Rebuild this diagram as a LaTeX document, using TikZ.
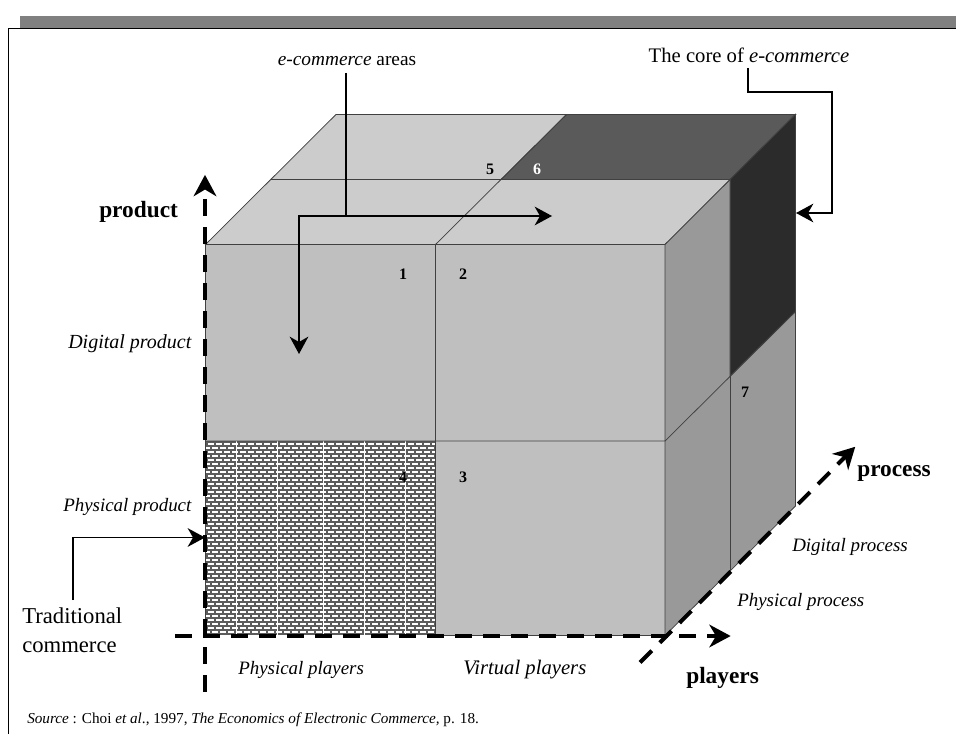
\documentclass[tikz,border=0pt]{standalone}
\usepackage{fontspec}
\setmainfont{Liberation Serif}
\usetikzlibrary{arrows.meta}
\definecolor{bargray}{HTML}{808080}
\definecolor{topgray}{HTML}{CCCCCC}
\definecolor{frontgray}{HTML}{BFBFBF}
\definecolor{sidegray}{HTML}{999999}
\definecolor{coretop}{HTML}{5A5A5A}
\definecolor{coreside}{HTML}{2B2B2B}
\definecolor{brickgray}{HTML}{5C5C5C}
\tikzset{
  face/.style={draw=black!75,line width=0.55pt},
  axisline/.style={line width=3pt,dash pattern=on 12.5pt off 8.5pt,-{Stealth[length=16pt,width=17pt,inset=5pt,sep=4pt]}},
  pointer/.style={line width=1.2pt,-{Stealth[length=13pt,width=14pt,inset=4pt]}},
  lab/.style={inner sep=0pt,font=\fontsize{15}{15}\selectfont},
  axislab/.style={inner sep=0pt,font=\fontsize{17.5}{18}\selectfont\bfseries},
  num/.style={inner sep=0pt,font=\fontsize{12}{12}\selectfont\bfseries},
  itlab/.style={inner sep=0pt,font=\fontsize{14.2}{15}\selectfont\itshape}
}
\begin{document}
\begin{tikzpicture}[x=0.75pt,y=-0.75pt]
\useasboundingbox (0,0) rectangle (956,734);
\fill[bargray] (20,16) rectangle (956,28);
\draw[line width=0.75pt] (956,28.5) -- (8.5,28.5) -- (8.5,734);
% faces of the cube
\draw[face,fill=topgray] (205.5,244.5) -- (336,114.5) -- (795.5,114.5) -- (665,244.5) -- cycle;
\draw[face,fill=coretop] (566.5,114.5) -- (795.5,114.5) -- (730,179.5) -- (501,179.5) -- cycle;
\draw[face,fill=frontgray] (205.5,244.5) rectangle (665,635.5);
\draw[face,fill=sidegray] (665,244.5) -- (795.5,114.5) -- (795.5,506) -- (665,635.5) -- cycle;
\draw[face,fill=coreside] (730,179.5) -- (795.5,114.5) -- (795.5,311.5) -- (730,376) -- cycle;
% brick pattern
\fill[white] (205.5,441) rectangle (435.5,635.5);
\foreach \row in {0,...,48} {
  \draw[brickgray,line width=1.2pt] (205.5,442+4*\row) -- (435.5,442+4*\row);
  \pgfmathsetmacro{\shift}{mod(\row,2)*4}
  \ifnum\row<48
  \foreach \col in {0,...,28}
    \draw[brickgray,line width=0.8pt] (207+\shift+8*\col,442+4*\row) -- (207+\shift+8*\col,446+4*\row);
  \fi
}
\foreach \gap in {236,277,323,364,405}
  \draw[white,line width=0.6pt] (\gap,441) -- (\gap,635.5);
% inner lines
\draw[face] (271,179.5) -- (730,179.5);
\draw[face] (435.5,244.5) -- (566.5,114.5);
\draw[face] (435.5,244.5) -- (435.5,635.5);
\draw[face] (205.5,441) -- (665,441) -- (795.5,311.5);
\draw[face] (730,179.5) -- (730,570);
% axes
\coordinate (prodbot) at (205,692);
\coordinate (prodtip) at (205,169.5);
\coordinate (playleft) at (175,636);
\coordinate (playtip) at (736,636);
\coordinate (procbot) at (640,662.5);
\coordinate (proctip) at (859,443);
\draw[axisline] (prodbot) -- (prodtip);
\draw[axisline] (playleft) -- (playtip);
\draw[axisline] (procbot) -- (proctip);
% texts
\node[lab,font=\fontsize{14.5}{15}\selectfont] (areas) at (347,61) {\textit{e-commerce} areas};
\node[lab,font=\fontsize{15.5}{16}\selectfont] (core) at (749,55) {The core of \textit{e-commerce}};
\node[axislab,anchor=west] (product) at (99,212) {product};
\node[axislab,anchor=west] (process) at (857,473) {process};
\node[axislab,anchor=west] (players) at (686,678) {players};
\node[itlab,anchor=west,font=\fontsize{15}{15}\selectfont\itshape] (digprod) at (68,344) {Digital product};
\node[itlab,anchor=west] (physprod) at (63,507) {Physical product};
\node[itlab,anchor=west] (physplay) at (238,670) {Physical players};
\node[itlab,anchor=west,font=\fontsize{15.5}{15}\selectfont\itshape] (virtplay) at (463,670) {Virtual players};
\node[itlab,anchor=west] (digproc) at (792,547) {Digital process};
\node[itlab,anchor=west] (physproc) at (737,602) {Physical process};
\node[lab,anchor=west,align=left,font=\fontsize{17}{22}\selectfont] (trad) at (22,630) {Traditional\\commerce};
\node[inner sep=0pt,anchor=west,font=\fontsize{11.4}{12}\selectfont] (source) at (27,720) {\textit{Source} : Choi \textit{et al}., 1997, \textit{The Economics of Electronic Commerce,} p. 18.};
\node[num] (n1) at (403,274) {1};
\node[num] (n2) at (463,274) {2};
\node[num] (n3) at (463,477) {3};
\node[num] (n4) at (403,477) {4};
\node[num] (n5) at (490,169) {5};
\node[num,text=white] (n6) at (537,169) {6};
\node[num] (n7) at (745,392) {7};
% pointers
\coordinate (areatop) at (346,73);
\coordinate (areajoin) at (346,216);
\coordinate (areaturn) at (299,216);
\coordinate (areadown) at (299,354);
\coordinate (arearight) at (552,216);
\draw[pointer] (areatop) -- (areajoin) -- (arearight);
\draw[pointer] (areajoin) -- (areaturn) -- (areadown);
\coordinate (corestart) at (748,68);
\coordinate (coreturn) at (832,92);
\coordinate (coretip) at (796,213);
\draw[pointer] (corestart) |- (coreturn) |- (coretip);
\coordinate (tradtop) at (73,600);
\coordinate (tradtip) at (205,537.5);
\draw[pointer] (tradtop) |- (tradtip);
\end{tikzpicture}
\end{document}
